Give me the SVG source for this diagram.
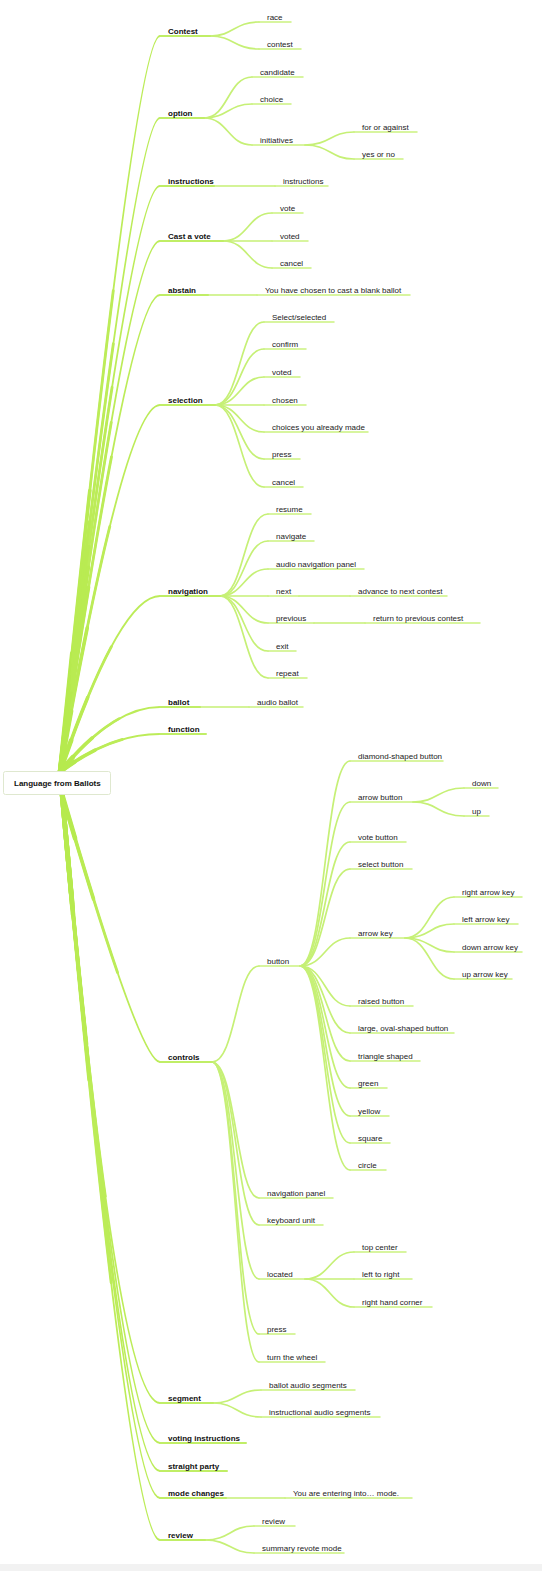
<svg xmlns="http://www.w3.org/2000/svg" xmlns:xlink="http://www.w3.org/1999/xlink" width="542" height="1571" viewBox="0 0 542 1571">
<style>
text{font-family:"Liberation Sans",Arial,sans-serif;font-size:8px;fill:#222}
.b{font-weight:bold;fill:#111}
.u1{stroke:#c0ee66;stroke-width:2;fill:none;stroke-linecap:round}
.u2{stroke:#cbf280;stroke-width:1.5;fill:none;stroke-linecap:round}
.c1{stroke:#bcec58;stroke-width:2.1;fill:none;stroke-linecap:round}
.c1a{stroke:#bcec58;stroke-width:2.8;fill:none;stroke-linecap:round;stroke-dasharray:65 200}
.c1b{stroke:#b9eb52;stroke-width:3.6;fill:none;stroke-linecap:round;stroke-dasharray:38 200}
.c1c{stroke:#b6ea4e;stroke-width:4.6;fill:none;stroke-linecap:round;stroke-dasharray:16 200}
.c2{stroke:#c6f076;stroke-width:1.7;fill:none;stroke-linecap:round}
</style>
<defs>
<path id="r1" pathLength="100" d="M60 772Q135 36 160 36"/>
<path id="r2" pathLength="100" d="M60 772Q135 118 160 118"/>
<path id="r3" pathLength="100" d="M60 772Q132 186 160 186"/>
<path id="r4" pathLength="100" d="M60 772Q130 241 160 241"/>
<path id="r5" pathLength="100" d="M60 772Q130 295 160 295"/>
<path id="r6" pathLength="100" d="M60 772Q125 405 160 405"/>
<path id="r7" pathLength="100" d="M60 772Q120 596 160 596"/>
<path id="r8" pathLength="100" d="M60 772Q113 707 160 707"/>
<path id="r9" pathLength="100" d="M60 772Q110 734 160 734"/>
<path id="r10" pathLength="100" d="M62 794Q140 1062 160 1062"/>
<path id="r11" pathLength="100" d="M62 794Q116 1403 160 1403"/>
<path id="r12" pathLength="100" d="M62 794Q121 1443 160 1443"/>
<path id="r13" pathLength="100" d="M62 794Q123 1471 160 1471"/>
<path id="r14" pathLength="100" d="M62 794Q126 1498 160 1498"/>
<path id="r15" pathLength="100" d="M62 794Q129 1540 160 1540"/>
</defs>
<rect x="0" y="0" width="542" height="1571" fill="#ffffff"/>
<rect x="0" y="1564" width="542" height="7" fill="#f2f2f2"/>
<g id="connectors">
<use xlink:href="#r1" class="c1"/><use xlink:href="#r1" class="c1a"/><use xlink:href="#r1" class="c1b"/><use xlink:href="#r1" class="c1c"/>
<use xlink:href="#r2" class="c1"/><use xlink:href="#r2" class="c1a"/><use xlink:href="#r2" class="c1b"/><use xlink:href="#r2" class="c1c"/>
<use xlink:href="#r3" class="c1"/><use xlink:href="#r3" class="c1a"/><use xlink:href="#r3" class="c1b"/><use xlink:href="#r3" class="c1c"/>
<use xlink:href="#r4" class="c1"/><use xlink:href="#r4" class="c1a"/><use xlink:href="#r4" class="c1b"/><use xlink:href="#r4" class="c1c"/>
<use xlink:href="#r5" class="c1"/><use xlink:href="#r5" class="c1a"/><use xlink:href="#r5" class="c1b"/><use xlink:href="#r5" class="c1c"/>
<use xlink:href="#r6" class="c1"/><use xlink:href="#r6" class="c1a"/><use xlink:href="#r6" class="c1b"/><use xlink:href="#r6" class="c1c"/>
<use xlink:href="#r7" class="c1"/><use xlink:href="#r7" class="c1a"/><use xlink:href="#r7" class="c1b"/><use xlink:href="#r7" class="c1c"/>
<use xlink:href="#r8" class="c1"/><use xlink:href="#r8" class="c1a"/><use xlink:href="#r8" class="c1b"/><use xlink:href="#r8" class="c1c"/>
<use xlink:href="#r9" class="c1"/><use xlink:href="#r9" class="c1a"/><use xlink:href="#r9" class="c1b"/><use xlink:href="#r9" class="c1c"/>
<use xlink:href="#r10" class="c1"/><use xlink:href="#r10" class="c1a"/><use xlink:href="#r10" class="c1b"/><use xlink:href="#r10" class="c1c"/>
<use xlink:href="#r11" class="c1"/><use xlink:href="#r11" class="c1a"/><use xlink:href="#r11" class="c1b"/><use xlink:href="#r11" class="c1c"/>
<use xlink:href="#r12" class="c1"/><use xlink:href="#r12" class="c1a"/><use xlink:href="#r12" class="c1b"/><use xlink:href="#r12" class="c1c"/>
<use xlink:href="#r13" class="c1"/><use xlink:href="#r13" class="c1a"/><use xlink:href="#r13" class="c1b"/><use xlink:href="#r13" class="c1c"/>
<use xlink:href="#r14" class="c1"/><use xlink:href="#r14" class="c1a"/><use xlink:href="#r14" class="c1b"/><use xlink:href="#r14" class="c1c"/>
<use xlink:href="#r15" class="c1"/><use xlink:href="#r15" class="c1a"/><use xlink:href="#r15" class="c1b"/><use xlink:href="#r15" class="c1c"/>
<path class="c2" d="M210 36C234 36 234 22 259 22"/>
<path class="c2" d="M210 36C234 36 234 49 259 49"/>
<path class="c2" d="M204 118C228 118 228 77 252 77"/>
<path class="c2" d="M204 118C228 118 228 104 252 104"/>
<path class="c2" d="M204 118C228 118 228 145 252 145"/>
<path class="c2" d="M305 145C330 145 330 132 354 132"/>
<path class="c2" d="M305 145C330 145 330 159 354 159"/>
<path class="c2" d="M214 186H275"/>
<path class="c2" d="M223 241C248 241 248 213 272 213"/>
<path class="c2" d="M223 241H272"/>
<path class="c2" d="M223 241C248 241 248 268 272 268"/>
<path class="c2" d="M208 295H257"/>
<path class="c2" d="M215 405C240 405 240 322 264 322"/>
<path class="c2" d="M215 405C240 405 240 349 264 349"/>
<path class="c2" d="M215 405C240 405 240 377 264 377"/>
<path class="c2" d="M215 405H264"/>
<path class="c2" d="M215 405C240 405 240 432 264 432"/>
<path class="c2" d="M215 405C240 405 240 459 264 459"/>
<path class="c2" d="M215 405C240 405 240 487 264 487"/>
<path class="c2" d="M220 596C244 596 244 514 268 514"/>
<path class="c2" d="M220 596C244 596 244 541 268 541"/>
<path class="c2" d="M220 596C244 596 244 569 268 569"/>
<path class="c2" d="M220 596H268"/>
<path class="c2" d="M220 596C244 596 244 623 268 623"/>
<path class="c2" d="M220 596C244 596 244 651 268 651"/>
<path class="c2" d="M220 596C244 596 244 678 268 678"/>
<path class="c2" d="M299 596H350"/>
<path class="c2" d="M314 623H365"/>
<path class="c2" d="M200 707H249"/>
<path class="c2" d="M212 1062C236 1062 236 966 259 966"/>
<path class="c2" d="M212 1062C236 1062 236 1198 259 1198"/>
<path class="c2" d="M212 1062C236 1062 236 1225 259 1225"/>
<path class="c2" d="M212 1062C236 1062 236 1279 259 1279"/>
<path class="c2" d="M212 1062C236 1062 236 1334 259 1334"/>
<path class="c2" d="M212 1062C236 1062 236 1362 259 1362"/>
<path class="c2" d="M300 966C325 966 325 761 350 761"/>
<path class="c2" d="M300 966C325 966 325 802 350 802"/>
<path class="c2" d="M300 966C325 966 325 842 350 842"/>
<path class="c2" d="M300 966C325 966 325 869 350 869"/>
<path class="c2" d="M300 966C325 966 325 938 350 938"/>
<path class="c2" d="M300 966C325 966 325 1006 350 1006"/>
<path class="c2" d="M300 966C325 966 325 1033 350 1033"/>
<path class="c2" d="M300 966C325 966 325 1061 350 1061"/>
<path class="c2" d="M300 966C325 966 325 1088 350 1088"/>
<path class="c2" d="M300 966C325 966 325 1116 350 1116"/>
<path class="c2" d="M300 966C325 966 325 1143 350 1143"/>
<path class="c2" d="M300 966C325 966 325 1170 350 1170"/>
<path class="c2" d="M413 802C438 802 438 788 464 788"/>
<path class="c2" d="M413 802C438 802 438 816 464 816"/>
<path class="c2" d="M405 938C430 938 430 897 454 897"/>
<path class="c2" d="M405 938C430 938 430 924 454 924"/>
<path class="c2" d="M405 938C430 938 430 952 454 952"/>
<path class="c2" d="M405 938C430 938 430 979 454 979"/>
<path class="c2" d="M305 1279C330 1279 330 1252 354 1252"/>
<path class="c2" d="M305 1279H354"/>
<path class="c2" d="M305 1279C330 1279 330 1307 354 1307"/>
<path class="c2" d="M213 1403C237 1403 237 1390 261 1390"/>
<path class="c2" d="M213 1403C237 1403 237 1417 261 1417"/>
<path class="c2" d="M226 1498H285"/>
<path class="c2" d="M205 1540C230 1540 230 1526 254 1526"/>
<path class="c2" d="M205 1540C230 1540 230 1553 254 1553"/>
</g>
<g id="root"><rect x="3.5" y="771.5" width="107" height="23" fill="#fff" stroke="#dfe8cf" stroke-width="1" rx="2"/><text class="b" x="14" y="786">Language from Ballots</text></g>
<g id="n-contest"><path class="u1" d="M160 36H210"/><text class="b" x="168" y="34">Contest</text></g>
<g id="n-race"><path class="u2" d="M259 22H291"/><text x="267" y="20">race</text></g>
<g id="n-contest2"><path class="u2" d="M259 49H301"/><text x="267" y="47">contest</text></g>
<g id="n-option"><path class="u1" d="M160 118H204"/><text class="b" x="168" y="116">option</text></g>
<g id="n-candidate"><path class="u2" d="M252 77H303"/><text x="260" y="75">candidate</text></g>
<g id="n-choice"><path class="u2" d="M252 104H291"/><text x="260" y="102">choice</text></g>
<g id="n-initiatives"><path class="u2" d="M252 145H305"/><text x="260" y="143">initiatives</text></g>
<g id="n-for-or-against"><path class="u2" d="M354 132H417"/><text x="362" y="130">for or against</text></g>
<g id="n-yes-or-no"><path class="u2" d="M354 159H403"/><text x="362" y="157">yes or no</text></g>
<g id="n-instructions"><path class="u1" d="M160 186H214"/><text class="b" x="168" y="184">instructions</text></g>
<g id="n-instructions2"><path class="u2" d="M275 186H328"/><text x="283" y="184">instructions</text></g>
<g id="n-cast-a-vote"><path class="u1" d="M160 241H223"/><text class="b" x="168" y="239">Cast a vote</text></g>
<g id="n-vote"><path class="u2" d="M272 213H303"/><text x="280" y="211">vote</text></g>
<g id="n-voted"><path class="u2" d="M272 241H308"/><text x="280" y="239">voted</text></g>
<g id="n-cancel"><path class="u2" d="M272 268H311"/><text x="280" y="266">cancel</text></g>
<g id="n-abstain"><path class="u1" d="M160 295H208"/><text class="b" x="168" y="293">abstain</text></g>
<g id="n-blank"><path class="u2" d="M257 295H410"/><text x="265" y="293">You have chosen to cast a blank ballot</text></g>
<g id="n-selection"><path class="u1" d="M160 405H215"/><text class="b" x="168" y="403">selection</text></g>
<g id="n-select-selected"><path class="u2" d="M264 322H334"/><text x="272" y="320">Select/selected</text></g>
<g id="n-confirm"><path class="u2" d="M264 349H306"/><text x="272" y="347">confirm</text></g>
<g id="n-voted2"><path class="u2" d="M264 377H300"/><text x="272" y="375">voted</text></g>
<g id="n-chosen"><path class="u2" d="M264 405H306"/><text x="272" y="403">chosen</text></g>
<g id="n-choices"><path class="u2" d="M264 432H368"/><text x="272" y="430">choices you already made</text></g>
<g id="n-press"><path class="u2" d="M264 459H300"/><text x="272" y="457">press</text></g>
<g id="n-cancel2"><path class="u2" d="M264 487H303"/><text x="272" y="485">cancel</text></g>
<g id="n-navigation"><path class="u1" d="M160 596H220"/><text class="b" x="168" y="594">navigation</text></g>
<g id="n-resume"><path class="u2" d="M268 514H311"/><text x="276" y="512">resume</text></g>
<g id="n-navigate"><path class="u2" d="M268 541H314"/><text x="276" y="539">navigate</text></g>
<g id="n-audio-nav-panel"><path class="u2" d="M268 569H364"/><text x="276" y="567">audio navigation panel</text></g>
<g id="n-next"><path class="u2" d="M268 596H299"/><text x="276" y="594">next</text></g>
<g id="n-advance"><path class="u2" d="M350 596H447"/><text x="358" y="594">advance to next contest</text></g>
<g id="n-previous"><path class="u2" d="M268 623H314"/><text x="276" y="621">previous</text></g>
<g id="n-return"><path class="u2" d="M365 623H480"/><text x="373" y="621">return to previous contest</text></g>
<g id="n-exit"><path class="u2" d="M268 651H296"/><text x="276" y="649">exit</text></g>
<g id="n-repeat"><path class="u2" d="M268 678H307"/><text x="276" y="676">repeat</text></g>
<g id="n-ballot"><path class="u1" d="M160 707H200"/><text class="b" x="168" y="705">ballot</text></g>
<g id="n-audio-ballot"><path class="u2" d="M249 707H303"/><text x="257" y="705">audio ballot</text></g>
<g id="n-function"><path class="u1" d="M160 734H206"/><text class="b" x="168" y="732">function</text></g>
<g id="n-controls"><path class="u1" d="M160 1062H212"/><text class="b" x="168" y="1060">controls</text></g>
<g id="n-button"><path class="u2" d="M259 966H300"/><text x="267" y="964">button</text></g>
<g id="n-diamond"><path class="u2" d="M350 761H443"/><text x="358" y="759">diamond-shaped button</text></g>
<g id="n-arrow-button"><path class="u2" d="M350 802H413"/><text x="358" y="800">arrow button</text></g>
<g id="n-down"><path class="u2" d="M464 788H498"/><text x="472" y="786">down</text></g>
<g id="n-up"><path class="u2" d="M464 816H489"/><text x="472" y="814">up</text></g>
<g id="n-vote-button"><path class="u2" d="M350 842H406"/><text x="358" y="840">vote button</text></g>
<g id="n-select-button"><path class="u2" d="M350 869H412"/><text x="358" y="867">select button</text></g>
<g id="n-arrow-key"><path class="u2" d="M350 938H405"/><text x="358" y="936">arrow key</text></g>
<g id="n-right-arrow-key"><path class="u2" d="M454 897H522"/><text x="462" y="895">right arrow key</text></g>
<g id="n-left-arrow-key"><path class="u2" d="M454 924H518"/><text x="462" y="922">left arrow key</text></g>
<g id="n-down-arrow-key"><path class="u2" d="M454 952H522"/><text x="462" y="950">down arrow key</text></g>
<g id="n-up-arrow-key"><path class="u2" d="M454 979H512"/><text x="462" y="977">up arrow key</text></g>
<g id="n-raised-button"><path class="u2" d="M350 1006H413"/><text x="358" y="1004">raised button</text></g>
<g id="n-oval-button"><path class="u2" d="M350 1033H454"/><text x="358" y="1031">large, oval-shaped button</text></g>
<g id="n-triangle"><path class="u2" d="M350 1061H420"/><text x="358" y="1059">triangle shaped</text></g>
<g id="n-green"><path class="u2" d="M350 1088H387"/><text x="358" y="1086">green</text></g>
<g id="n-yellow"><path class="u2" d="M350 1116H389"/><text x="358" y="1114">yellow</text></g>
<g id="n-square"><path class="u2" d="M350 1143H390"/><text x="358" y="1141">square</text></g>
<g id="n-circle"><path class="u2" d="M350 1170H386"/><text x="358" y="1168">circle</text></g>
<g id="n-navigation-panel"><path class="u2" d="M259 1198H333"/><text x="267" y="1196">navigation panel</text></g>
<g id="n-keyboard-unit"><path class="u2" d="M259 1225H323"/><text x="267" y="1223">keyboard unit</text></g>
<g id="n-located"><path class="u2" d="M259 1279H305"/><text x="267" y="1277">located</text></g>
<g id="n-top-center"><path class="u2" d="M354 1252H406"/><text x="362" y="1250">top center</text></g>
<g id="n-left-to-right"><path class="u2" d="M354 1279H412"/><text x="362" y="1277">left to right</text></g>
<g id="n-right-hand-corner"><path class="u2" d="M354 1307H432"/><text x="362" y="1305">right hand corner</text></g>
<g id="n-press2"><path class="u2" d="M259 1334H295"/><text x="267" y="1332">press</text></g>
<g id="n-turn-wheel"><path class="u2" d="M259 1362H325"/><text x="267" y="1360">turn the wheel</text></g>
<g id="n-segment"><path class="u1" d="M160 1403H213"/><text class="b" x="168" y="1401">segment</text></g>
<g id="n-ballot-audio"><path class="u2" d="M261 1390H355"/><text x="269" y="1388">ballot audio segments</text></g>
<g id="n-instr-audio"><path class="u2" d="M261 1417H380"/><text x="269" y="1415">instructional audio segments</text></g>
<g id="n-voting-instructions"><path class="u1" d="M160 1443H246"/><text class="b" x="168" y="1441">voting instructions</text></g>
<g id="n-straight-party"><path class="u1" d="M160 1471H227"/><text class="b" x="168" y="1469">straight party</text></g>
<g id="n-mode-changes"><path class="u1" d="M160 1498H226"/><text class="b" x="168" y="1496">mode changes</text></g>
<g id="n-entering"><path class="u2" d="M285 1498H412"/><text x="293" y="1496">You are entering into… mode.</text></g>
<g id="n-review"><path class="u1" d="M160 1540H205"/><text class="b" x="168" y="1538">review</text></g>
<g id="n-review2"><path class="u2" d="M254 1526H295"/><text x="262" y="1524">review</text></g>
<g id="n-summary"><path class="u2" d="M254 1553H344"/><text x="262" y="1551">summary revote mode</text></g>
</svg>
